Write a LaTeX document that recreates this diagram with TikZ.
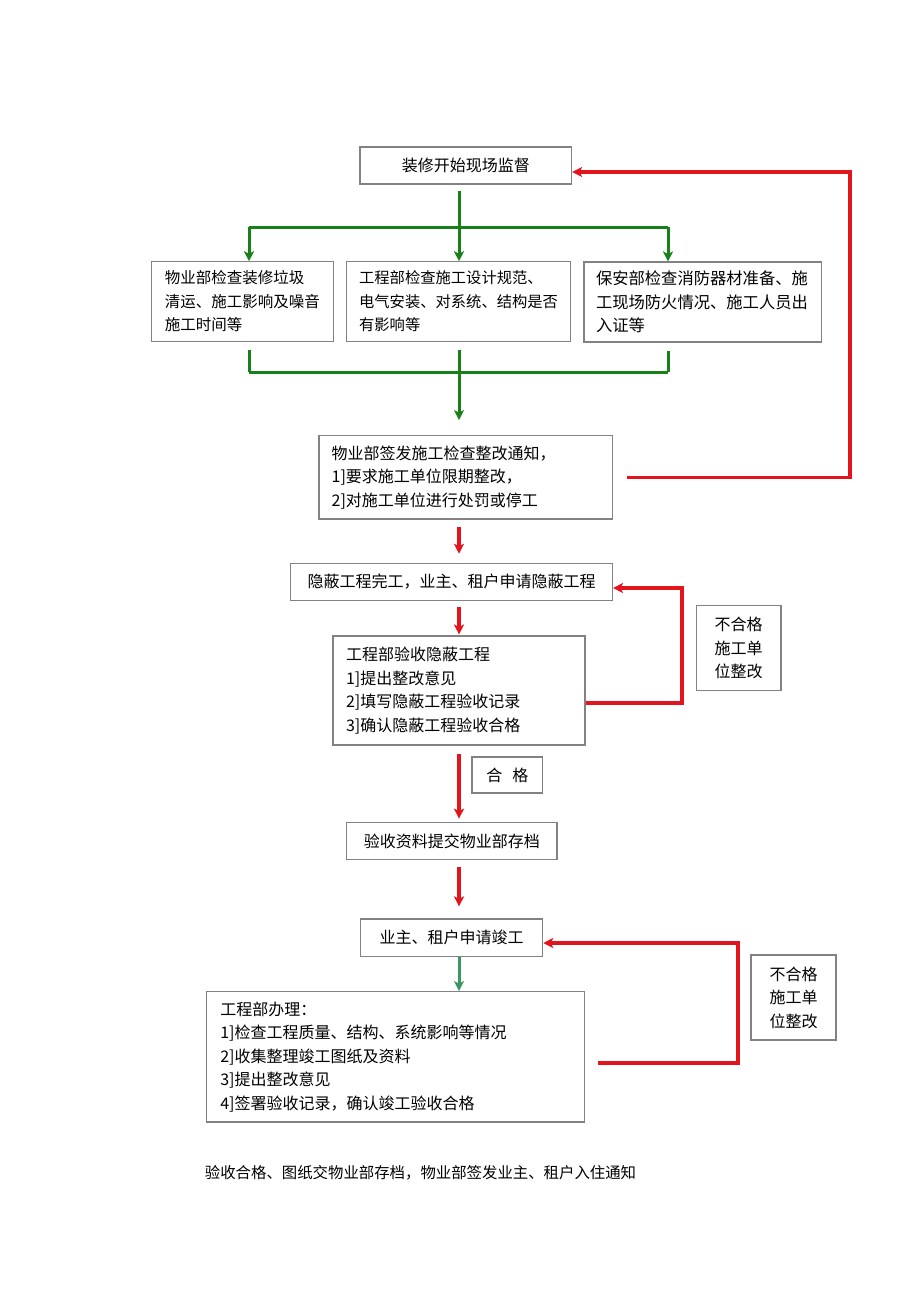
\documentclass[tikz,border=0pt]{standalone}
\usepackage{fontspec}
\setmainfont{Noto Sans CJK SC}
\usetikzlibrary{arrows.meta}
\definecolor{gcol}{RGB}{24,128,24}
\definecolor{tcol}{RGB}{60,150,100}
\definecolor{rcol}{RGB}{226,20,30}
\definecolor{boxgray}{RGB}{130,130,130}
\tikzset{
  box/.style={draw=boxgray, line width=1.1pt, rectangle, inner sep=0pt, font=\fontsize{16}{23.5}\selectfont},
  lbox/.style={box, align=left},
  cbox/.style={box, align=center},
  gline/.style={draw=gcol, line width=3pt},
  garrow/.style={gline, -{Stealth[length=10pt,width=10pt,inset=2.5pt]}},
  tarrow/.style={draw=tcol, line width=3pt, -{Stealth[length=10pt,width=10pt,inset=2.5pt]}},
  rarrow/.style={draw=rcol, line width=3.2pt, line join=miter, -{Stealth[length=10pt,width=10pt,inset=2.5pt]}},
}
\begin{document}
\begin{tikzpicture}[x=1pt,y=-1pt]
\useasboundingbox (0,0) rectangle (920,1301);
\fill[white] (0,0) rectangle (920,1301);

% boxes
\node[cbox, minimum width=211.6pt, minimum height=37pt] (top) at (465.8,165.5) {装修开始现场监督};
\node[lbox, minimum width=182.4pt, minimum height=79.3pt, text width=155.4pt, inner xsep=13.5pt, font=\fontsize{15.5}{23.5}\selectfont] (b1) at (242.6,301.4) {物业部检查装修垃圾\\清运、施工影响及噪音\\施工时间等};
\node[lbox, minimum width=224pt, minimum height=79.3pt, text width=199pt, inner xsep=12.5pt, font=\fontsize{15.3}{23.5}\selectfont] (b2) at (458.6,301.4) {工程部检查施工设计规范、\\电气安装、对系统、结构是否\\有影响等};
\node[lbox, minimum width=237.8pt, minimum height=80pt, text width=213.8pt, inner xsep=12pt, font=\fontsize{16.3}{23.5}\selectfont] (b3) at (702.9,302) {保安部检查消防器材准备、施\\工现场防火情况、施工人员出\\入证等};
\node[lbox, minimum width=293.5pt, minimum height=83.3pt, text width=268pt, inner xsep=12.7pt] (notice) at (465.7,477.3) {物业部签发施工检查整改通知，\\1]要求施工单位限期整改，\\2]对施工单位进行处罚或停工};
\node[cbox, minimum width=321.8pt, minimum height=37pt] (hidden) at (451.6,581.8) {隐蔽工程完工，业主、租户申请隐蔽工程};
\node[lbox, minimum width=252pt, minimum height=109pt, text width=226pt, inner xsep=13pt] (eng) at (459,690.5) {工程部验收隐蔽工程\\1]提出整改意见\\2]填写隐蔽工程验收记录\\3]确认隐蔽工程验收合格};
\node[cbox, minimum width=84.5pt, minimum height=85pt] (ng1) at (738.7,648.2) {不合格\\施工单\\位整改};
\node[cbox, minimum width=70.7pt, minimum height=36pt] (ok) at (507.3,775) {合\hspace{10pt}格};
\node[cbox, minimum width=210.4pt, minimum height=36.6pt] (archive) at (451.8,841) {验收资料提交物业部存档};
\node[cbox, minimum width=182.2pt, minimum height=37.7pt] (apply) at (451.6,937.8) {业主、租户申请竣工};
\node[cbox, minimum width=85pt, minimum height=85pt] (ng2) at (793.5,997.5) {不合格\\施工单\\位整改};
\node[lbox, minimum width=378pt, minimum height=130.3pt, text width=351pt, inner xsep=13.5pt] (handle) at (395.8,1056.8) {工程部办理：\\1]检查工程质量、结构、系统影响等情况\\2]收集整理竣工图纸及资料\\3]提出整改意见\\4]签署验收记录，确认竣工验收合格};
\node[anchor=west, inner sep=0pt, font=\fontsize{15.4}{23.5}\selectfont] (final) at (204.7,1173) {验收合格、图纸交物业部存档，物业部签发业主、租户入住通知};

% green fan-out
\coordinate (fan) at (459,227);
\coordinate (f1) at (249,227);
\coordinate (f3) at (668,227);
\draw[gline, shorten <=6pt] (fan |- top.south) -- (fan);
\draw[gline] (f1) -- (f3);
\draw[garrow] (f1) -- (f1 |- b1.north);
\draw[garrow] (fan) -- (fan |- b2.north);
\draw[garrow] (f3) -- (f3 |- b3.north);

% green fan-in
\coordinate (g1) at (249,372);
\coordinate (g2) at (459,372);
\coordinate (g3) at (668,372);
\draw[gline, shorten <=8pt] (g1 |- b1.south) -- (g1);
\draw[gline, shorten <=8pt] (g2 |- b2.south) -- (g2);
\draw[gline, shorten <=8pt] (g3 |- b3.south) -- (g3);
\draw[gline] (g1) -- (g3);
\draw[garrow, shorten >=15pt] (g2) -- (g2 |- notice.north);

% red loop notice -> top
\coordinate (rc1) at (850,477.3);
\coordinate (rc2) at (850,172);
\draw[rarrow, shorten <=14pt] (notice.east) -- (rc1) -- (rc2) -- (rc2 -| top.east);

% red main chain
\coordinate (ax) at (459,0);
\draw[rarrow, shorten <=7pt, shorten >=9pt] (ax |- notice.south) -- (ax |- hidden.north);
\draw[rarrow, shorten <=6pt, shorten >=1pt] (ax |- hidden.south) -- (ax |- eng.north);
\draw[rarrow, shorten <=8pt, shorten >=3.5pt] (ax |- eng.south) -- (ax |- archive.north);
\draw[rarrow, shorten <=7.5pt, shorten >=12pt] (ax |- archive.south) -- (ax |- apply.north);
\draw[tarrow] (ax |- apply.south) -- (ax |- handle.north);

% red loop eng -> hidden
\coordinate (lp1) at (682,703);
\coordinate (lp2) at (682,588);
\draw[rarrow] (lp1 -| eng.east) -- (lp1) -- (lp2) -- (lp2 -| hidden.east);

% red loop handle -> apply
\coordinate (lq1) at (738,1063);
\coordinate (lq2) at (738,943);
\draw[rarrow, shorten <=13pt] (lq1 -| handle.east) -- (lq1) -- (lq2) -- (lq2 -| apply.east);
\end{tikzpicture}
\end{document}
